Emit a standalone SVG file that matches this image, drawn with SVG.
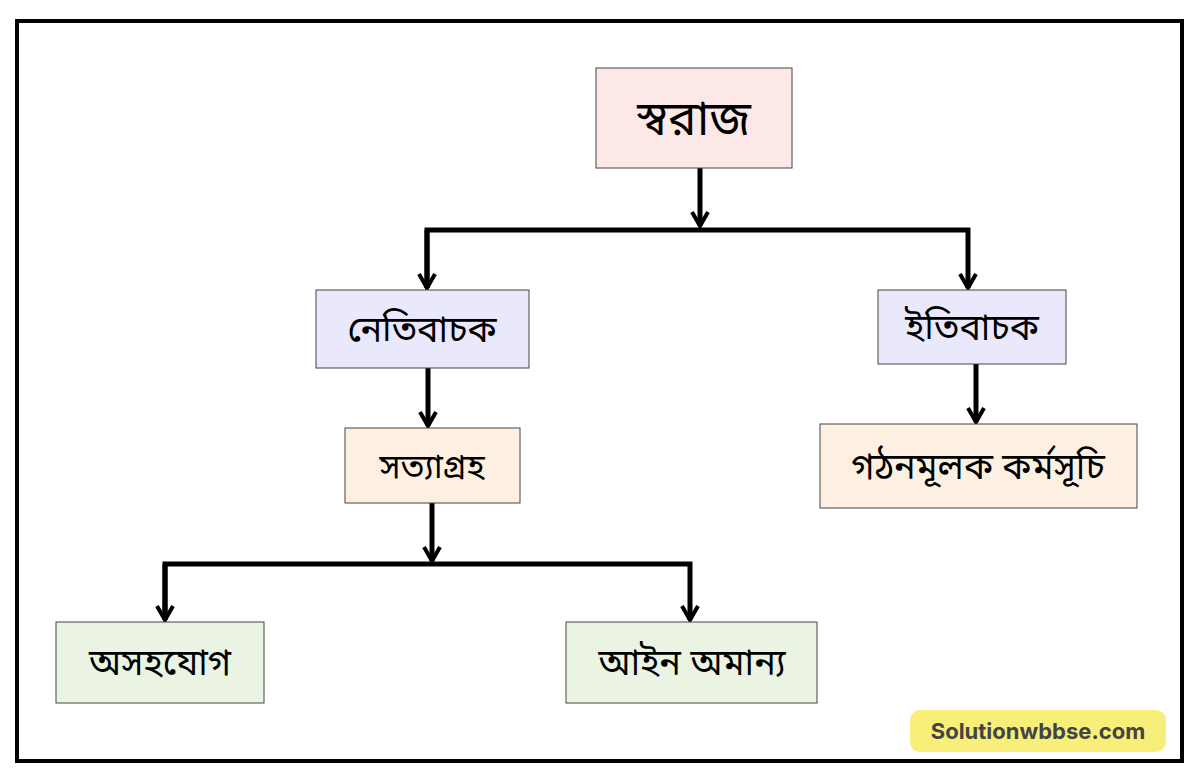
<svg xmlns="http://www.w3.org/2000/svg" width="1200" height="780" viewBox="0 0 1200 780">
<style>
.b{stroke:#444;stroke-width:1}
.t{font-family:"Noto Sans Bengali","Noto Serif Bengali","Noto Sans",sans-serif;fill:#000;text-anchor:middle}
.c{stroke:#000;stroke-width:5;fill:none}
</style>
<defs>
<marker id="a" viewBox="0 0 10 10" refX="8" refY="5" markerWidth="4" markerHeight="4" orient="auto" markerUnits="strokeWidth">
<polyline points="1,1 8,5 1,9" fill="none" stroke="#000" stroke-width="2"/>
</marker>
</defs>
<rect x="0" y="0" width="1200" height="780" fill="#fff"/>
<rect x="17" y="21" width="1165" height="740" fill="none" stroke="#000" stroke-width="4"/>
<g id="connectors">
<path class="c" d="M700 168V226" marker-end="url(#a)"/>
<path class="c" d="M427 288V230H968V288" marker-end="url(#a)"/>
<path class="c" d="M427 230V288" marker-end="url(#a)"/>
<path class="c" d="M428 368V426" marker-end="url(#a)"/>
<path class="c" d="M976 364V422" marker-end="url(#a)"/>
<path class="c" d="M432 503V561" marker-end="url(#a)"/>
<path class="c" d="M165 620V564H690V620" marker-end="url(#a)"/>
<path class="c" d="M165 564V620" marker-end="url(#a)"/>
</g>
<g id="swaraj"><rect class="b" x="596" y="68" width="196" height="100" fill="#fde8e8"/><text class="t" x="694" y="135" font-size="48">স্বরাজ</text></g>
<g id="neti"><rect class="b" x="316" y="290" width="213" height="78" fill="#e9e9fb"/><text class="t" x="422" y="342" font-size="36">নেতিবাচক</text></g>
<g id="iti"><rect class="b" x="878" y="290" width="188" height="74" fill="#e9e9fb"/><text class="t" x="972" y="340" font-size="36">ইতিবাচক</text></g>
<g id="satya"><rect class="b" x="345" y="428" width="175" height="75" fill="#fdf0e2"/><text class="t" x="432" y="478" font-size="34">সত্যাগ্রহ</text></g>
<g id="gathan"><rect class="b" x="820" y="424" width="317" height="84" fill="#fdf0e2"/><text class="t" x="978" y="479" font-size="36">গঠনমূলক কর্মসূচি</text></g>
<g id="asahayog"><rect class="b" x="56" y="622" width="208" height="81" fill="#ebf4e2"/><text class="t" x="160" y="675" font-size="36">অসহযোগ</text></g>
<g id="ain"><rect class="b" x="566" y="622" width="251" height="81" fill="#ebf4e2"/><text class="t" x="692" y="675" font-size="36">আইন অমান্য</text></g>
<g id="wm"><rect x="910" y="710" width="256" height="42" rx="10" fill="#f8ef7a"/><text x="1038" y="739" font-family="Inter,'Open Sans',sans-serif" font-weight="bold" font-size="22" fill="#444" text-anchor="middle">Solutionwbbse.com</text></g>
</svg>
